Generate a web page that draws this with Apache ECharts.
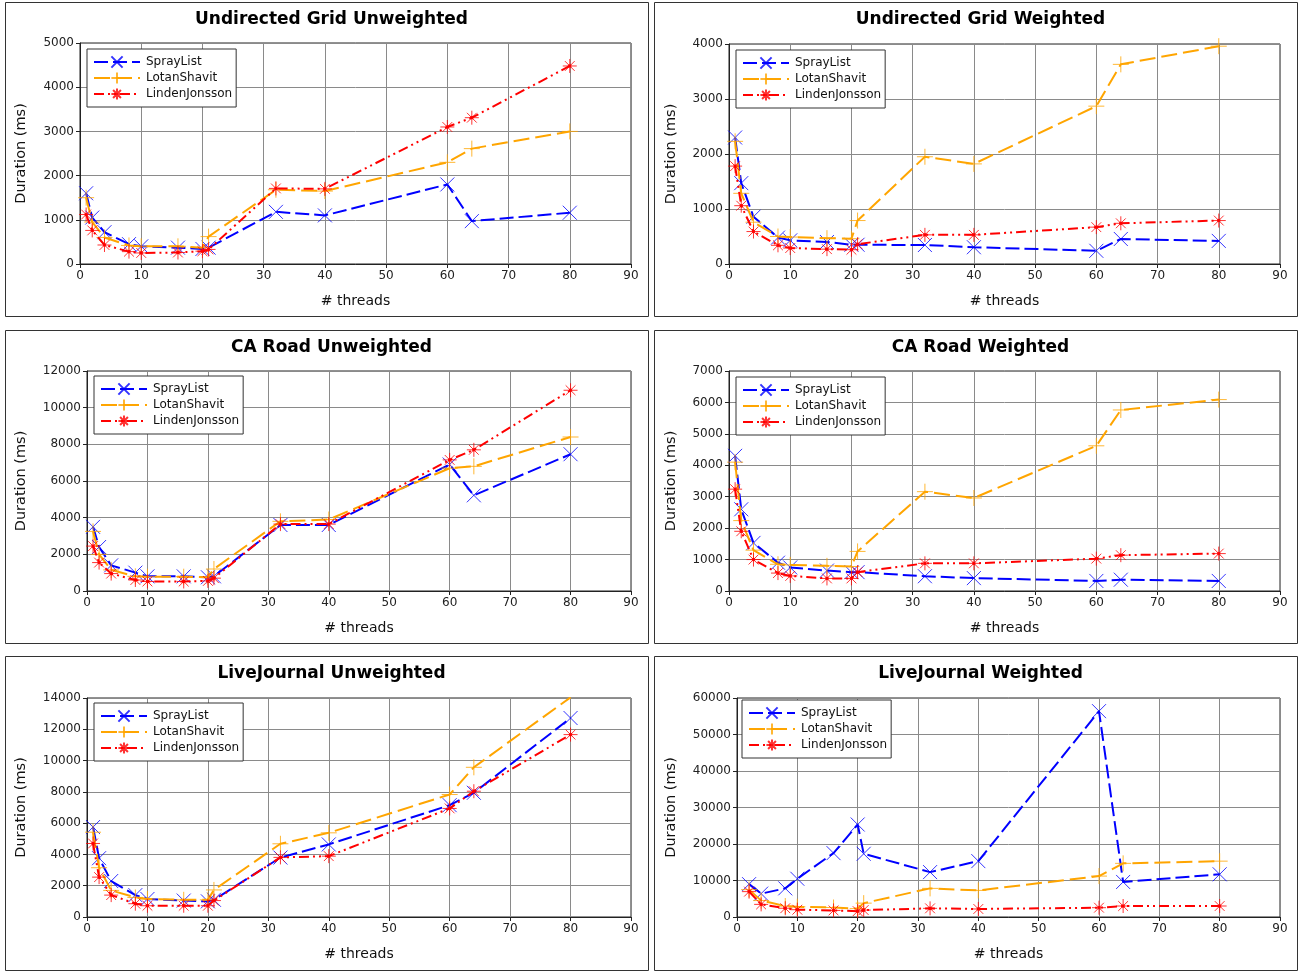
<!DOCTYPE html>
<html>
<head>
<meta charset="utf-8">
<script src="https://cdn.jsdelivr.net/npm/echarts@6/dist/echarts.min.js"></script>
<style>
html,body{margin:0;padding:0;background:#fff;}
#chart{width:1299px;height:972px;}
</style>
</head>
<body>
<div id="chart"></div>
<script>
// ---- data ----
const threads = [1, 2, 4, 8, 10, 16, 20, 21, 32, 40, 60, 64, 80];
const seriesNames = ['SprayList', 'LotanShavit', 'LindenJonsson'];
const panelTitles = ['Undirected Grid Unweighted', 'Undirected Grid Weighted', 'CA Road Unweighted', 'CA Road Weighted', 'LiveJournal Unweighted', 'LiveJournal Weighted'];
const yMax = [5000, 4000, 12000, 7000, 14000, 60000];
const yStep = [1000, 1000, 2000, 1000, 2000, 10000];

const gridUnwSpray  = [1600, 1050, 720, 450, 400, 370, 340, 370, 1180, 1100, 1800, 970, 1160];
const gridUnwLotan  = [1500, 950, 600, 420, 400, 400, 370, 620, 1680, 1650, 2300, 2610, 3000];
const gridUnwLinden = [1120, 760, 430, 280, 250, 260, 290, 330, 1710, 1700, 3100, 3310, 4480];

const gridWSpray  = [2300, 1470, 860, 480, 430, 400, 350, 350, 345, 305, 240, 455, 420];
const gridWLotan  = [2230, 1285, 760, 500, 490, 470, 460, 790, 1950, 1820, 2870, 3630, 3960];
const gridWLinden = [1780, 1060, 590, 340, 290, 270, 260, 360, 530, 530, 670, 740, 790];

const roadUnwSpray  = [3500, 2400, 1400, 1000, 800, 800, 750, 800, 3600, 3600, 6900, 5220, 7460];
const roadUnwLotan  = [3250, 2000, 1150, 800, 780, 780, 750, 1200, 3800, 3900, 6700, 6800, 8400];
const roadUnwLinden = [2450, 1550, 950, 600, 520, 520, 550, 700, 3650, 3650, 7150, 7700, 10950];

const roadWSpray  = [4300, 2600, 1530, 900, 750, 650, 600, 600, 470, 410, 320, 360, 320];
const roadWLotan  = [4100, 2240, 1300, 850, 830, 800, 780, 1260, 3160, 2960, 4620, 5760, 6090];
const roadWLinden = [3240, 1900, 1000, 570, 480, 400, 400, 600, 880, 880, 1030, 1140, 1190];

const ljUnwSpray  = [5750, 3760, 2300, 1400, 1150, 1050, 1000, 1100, 3800, 4640, 7150, 7940, 12720];
const ljUnwLotan  = [5420, 3150, 1700, 1250, 1150, 1100, 1100, 1730, 4680, 5380, 7830, 9570, 14040];
const ljUnwLinden = [4700, 2550, 1400, 850, 720, 720, 720, 1050, 3810, 3890, 6940, 8040, 11660];

const ljWSpray  = [null, 9000, 6400, 7850, 10480, 17500, 25340, 17320, 12300, 15310, 56400, 9600, 11700];
const ljWLotan  = [null, 7500, 4500, 3000, 2800, 2600, 2300, 3800, 7840, 7290, 11210, 14700, 15300];
const ljWLinden = [null, 6950, 3460, 2400, 2000, 1800, 1600, 1900, 2370, 2200, 2550, 3010, 3010];

const panelData = [
  [gridUnwSpray, gridUnwLotan, gridUnwLinden],
  [gridWSpray, gridWLotan, gridWLinden],
  [roadUnwSpray, roadUnwLotan, roadUnwLinden],
  [roadWSpray, roadWLotan, roadWLinden],
  [ljUnwSpray, ljUnwLotan, ljUnwLinden],
  [ljWSpray, ljWLotan, ljWLinden]
];

// ---- layout / style ----
const FONT = 'DejaVu Sans';
const grids = [
  {left: 80, top: 43, width: 551, height: 221},
  {left: 729, top: 44, width: 551, height: 220},
  {left: 87, top: 371, width: 544, height: 220},
  {left: 729, top: 371, width: 551, height: 220},
  {left: 87, top: 698, width: 544, height: 219},
  {left: 737, top: 698, width: 543, height: 219}
];
const panels = [
  {x: 5, y: 2, w: 643, h: 314},
  {x: 654, y: 2, w: 643, h: 314},
  {x: 5, y: 330, w: 643, h: 313},
  {x: 654, y: 330, w: 643, h: 313},
  {x: 5, y: 656, w: 643, h: 314},
  {x: 654, y: 656, w: 643, h: 314}
];
const yNameGap = [51, 50, 58, 50, 58, 58];
const legendPos = [
  {left: 87, top: 49}, {left: 736, top: 50},
  {left: 94, top: 376}, {left: 736, top: 377},
  {left: 94, top: 703}, {left: 742, top: 700}
];
const colors = ['#0000ff', '#ffa500', '#ff0000'];
const dashes = [[14, 5], [16, 6], [10, 4, 2, 4, 2, 4]];
const symbols = [
  'path://M0,0L10,10M10,0L0,10',
  'path://M5,0L5,10M0,5L10,5',
  'path://M5,0L5,10M0,5L10,5M1.5,1.5L8.5,8.5M8.5,1.5L1.5,8.5M4.2,4.2L5.8,4.2L5.8,5.8L4.2,5.8Z'
];
const symSizes = [14, 16, 14];

const option = {
  animation: false,
  backgroundColor: '#fff',
  textStyle: {fontFamily: FONT},
  title: [], grid: [], xAxis: [], yAxis: [], legend: [], series: [],
  graphic: panels.map(p => ({
    type: 'rect', shape: {x: p.x + 0.5, y: p.y + 0.5, width: p.w, height: p.h},
    style: {fill: 'none', stroke: '#333', lineWidth: 1}, silent: true, z: -1
  }))
};

panelTitles.forEach((t, i) => {
  const p = panels[i];
  option.title.push({
    text: t, left: p.x + p.w / 2, top: p.y + 4, textAlign: 'center',
    textStyle: {fontFamily: FONT, fontSize: 17, fontWeight: 'bold', color: '#000'}
  });
  option.grid.push(Object.assign({show: true, borderColor: '#222', borderWidth: 1, containLabel: false}, grids[i]));
  option.xAxis.push({
    type: 'value', gridIndex: i, min: 0, max: 90, interval: 10,
    name: '# threads', nameLocation: 'middle', nameGap: 30,
    nameTextStyle: {fontFamily: FONT, fontSize: 14, color: '#111'},
    axisLine: {show: true, onZero: false, lineStyle: {color: '#222'}},
    axisTick: {show: true, length: 4, inside: false, lineStyle: {color: '#222'}},
    axisLabel: {fontFamily: FONT, fontSize: 12, color: '#222', margin: 6},
    splitLine: {show: true, lineStyle: {color: '#8a8a8a', width: 1}}
  });
  option.yAxis.push({
    type: 'value', gridIndex: i, min: 0, max: yMax[i], interval: yStep[i],
    name: 'Duration (ms)', nameLocation: 'middle', nameGap: yNameGap[i],
    nameTextStyle: {fontFamily: FONT, fontSize: 14.5, color: '#111'},
    axisLine: {show: true, lineStyle: {color: '#222'}},
    axisTick: {show: true, length: 4, lineStyle: {color: '#222'}},
    axisLabel: {fontFamily: FONT, fontSize: 12, color: '#222', margin: 6, formatter: v => String(v)},
    splitLine: {show: true, lineStyle: {color: '#8a8a8a', width: 1}}
  });
  option.legend.push({
    left: legendPos[i].left, top: legendPos[i].top, orient: 'vertical',
    data: seriesNames, itemWidth: 46, itemHeight: 14, itemGap: 2,
    padding: [6, 4, 6, 6], borderColor: '#333', borderWidth: 1, borderRadius: 0,
    backgroundColor: '#fff', selectedMode: false,
    textStyle: {fontFamily: FONT, fontSize: 12, color: '#111', padding: [0, 0, 0, 1], lineHeight: 14}
  });
  panelData[i].forEach((vals, s) => {
    const data = [];
    threads.forEach((x, k) => { if (vals[k] != null) data.push([x, vals[k]]); });
    option.series.push({
      type: 'line', name: seriesNames[s], xAxisIndex: i, yAxisIndex: i,
      data: data, symbol: symbols[s], symbolSize: symSizes[s], showSymbol: true,
      lineStyle: {color: colors[s], width: 2, type: dashes[s]},
      itemStyle: {color: colors[s], borderColor: colors[s], borderWidth: 1, opacity: 0.8},
      z: 3 + s
    });
  });
});

const chart = echarts.init(document.getElementById('chart'), null, {renderer: 'canvas'});
chart.setOption(option);
</script>
</body>
</html>
